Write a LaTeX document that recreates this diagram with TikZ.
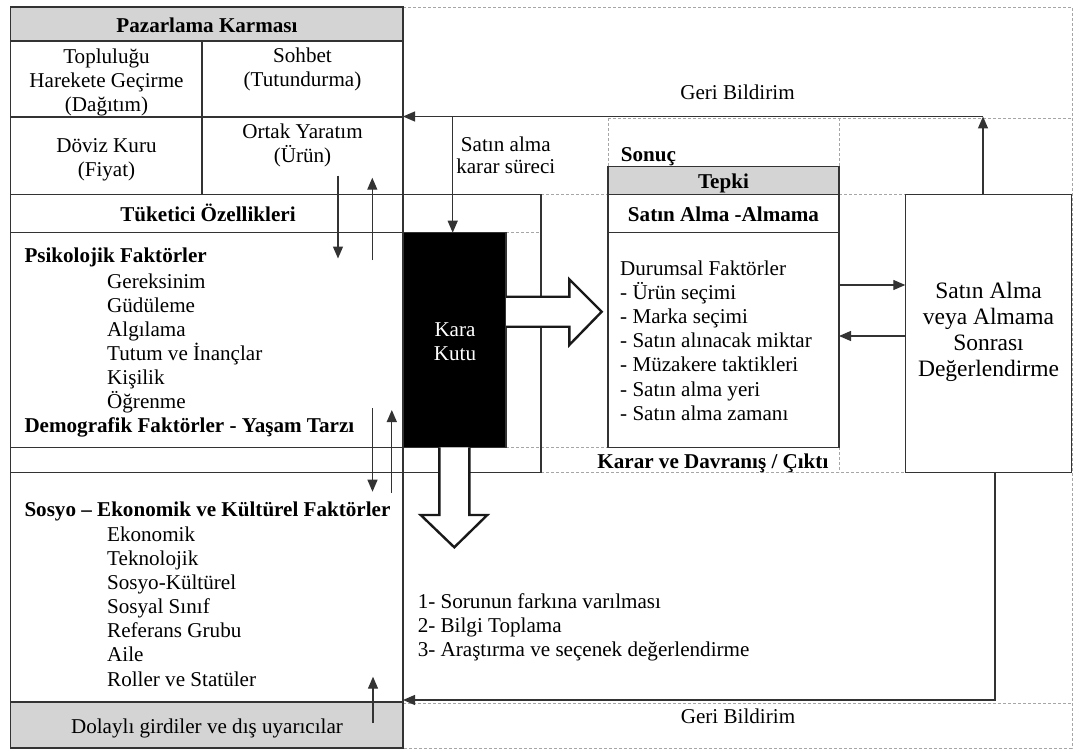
\documentclass[tikz,border=0pt]{standalone}
\usepackage{fontspec}
\setmainfont{Liberation Serif}
\usetikzlibrary{arrows.meta,calc}
\begin{document}
\begin{tikzpicture}[x=1pt,y=-1pt,
  line/.style={draw=black!80,line width=1.3pt},
  guide/.style={draw=black!35,line width=0.9pt,dash pattern=on 3pt off 2pt},
  arr/.style={line,-{Triangle[length=12pt,width=10pt]}},
  txt/.style={inner sep=0pt,anchor=base,font=\fontsize{21.1}{24.2}\selectfont},
  hd/.style={txt,font=\fontsize{21.1}{24.2}\selectfont\bfseries},
  big/.style={txt,font=\fontsize{23.5}{26.5}\selectfont},
  boxnode/.style={line,anchor=north west,inner sep=0pt,outer sep=0pt},
  hollow/.style={draw=black!90,line width=2.4pt,fill=white,line join=miter},
  shade/.style={fill=black!17},
]
\useasboundingbox (0,0) rectangle (1074,749);

% grey bands of the left column
\fill[shade] (10.7,7) rectangle (403,41);
\fill[shade] (10.7,702) rectangle (403,748);

% dashed frame and guide lines
\draw[guide] (403,7) -- (1072,7) -- (1072,748) -- (403,748);
\draw[guide] (608,118) -- (1072,118);
\draw[guide] (608,118) -- (608,166.7);
\draw[guide] (839,118) -- (839,166.7);
\draw[guide] (541,194.4) -- (608,194.4);
\draw[guide] (839,194.4) -- (905.3,194.4);
\draw[guide] (506,232.7) -- (541,232.7);
\draw[guide] (506,447.3) -- (608,447.3);
\draw[guide] (839,447.3) -- (839,472.3);
\draw[guide] (541,472.3) -- (905.3,472.3);
\draw[guide] (403,703) -- (1072,703);

% left column: marketing mix table and consumer characteristics
\draw[line] (10.7,7) rectangle (403,748);
\draw[line] (10.7,41) -- (403,41);
\draw[line] (10.7,117) -- (403,117);
\draw[line] (202,41) -- (202,194.4);
\draw[line] (10.7,194.4) -- (541,194.4) -- (541,472.3) -- (10.7,472.3);
\draw[line] (10.7,232.7) -- (403,232.7);
\draw[line] (10.7,447.3) -- (403,447.3);
\draw[line] (10.7,702) -- (403,702);

% black box
\node[boxnode,fill=black,minimum width=103pt,minimum height=214.6pt] (kara) at (403,232.7) {};

% response box with its grey header
\node[boxnode,minimum width=231pt,minimum height=280.6pt] (tepki) at (608,166.7) {};
\node[boxnode,fill=black!17,minimum width=231pt,minimum height=27.7pt] (tepkihd) at (608,166.7) {};
\draw[line] (tepki.west |- kara.north) -- (tepki.east |- kara.north);

% post-purchase evaluation box
\node[boxnode,minimum width=166.4pt,minimum height=277.8pt] (sonra) at (905.3,194.5) {};

% connectors
\coordinate (fbtop) at (983,116.5);
\coordinate (fbbot) at (995,700);
\coordinate (ra) at (0,285);
\coordinate (la) at (0,336);
\draw[arr] (fbtop |- sonra.north) -- (fbtop);
\draw[arr] (fbtop) -- (fbtop -| kara.west);
\draw[arr] (452.7,116.5) -- (452.7,232.7);
\draw[arr] (tepki.east |- ra) -- (sonra.west |- ra);
\draw[arr] (sonra.west |- la) -- (tepki.east |- la);
\draw[arr] (sonra.south -| fbbot) -- (fbbot) -- (fbbot -| kara.west);

% small influence arrows in the left column
\coordinate (a1s) at (338,175.7);   \coordinate (a1e) at (338,258.5);
\coordinate (a2s) at (372.3,260);   \coordinate (a2e) at (372.3,177.7);
\coordinate (a3s) at (372.5,408.3); \coordinate (a3e) at (372.5,491.7);
\coordinate (a4s) at (391.8,492.7); \coordinate (a4e) at (391.8,410);
\coordinate (a5s) at (373,723);     \coordinate (a5e) at (373,676.7);
\foreach \s/\e in {a1s/a1e,a2s/a2e,a3s/a3e,a4s/a4e,a5s/a5e}
  \draw[arr] (\s) -- (\e);

% hollow block arrows out of the black box
\draw[hollow] (506,296.7) -- (569.3,296.7) -- (569.3,279.3) -- (601.7,311.7)
  -- (569.3,345) -- (569.3,326.7) -- (506,326.7);
\draw[hollow] (439.3,447.3) -- (439.3,515) -- (420.7,515) -- (454.3,547.3)
  -- (487.3,515) -- (469.3,515) -- (469.3,447.3);

% table texts
\node[hd] (pk) at (207,33) {Pazarlama Karması};
\node[txt] (d1) at (106.5,63.5) {Topluluğu};
\node[txt] (d2) at (106.5,87.4) {Harekete Geçirme};
\node[txt] (d3) at (106.5,111.2) {(Dağıtım)};
\node[txt] (t1) at (302.5,62.7) {Sohbet};
\node[txt] (t2) at (302.5,86.6) {(Tutundurma)};
\node[txt] (f1) at (106.5,152.7) {Döviz Kuru};
\node[txt] (f2) at (106.5,176.5) {(Fiyat)};
\node[txt] (u1) at (302.5,138.3) {Ortak Yaratım};
\node[txt] (u2) at (302.5,162.2) {(Ürün)};
\node[hd] (tk) at (208,221.7) {Tüketici Özellikleri};

% psychological factors
\node[hd,anchor=base west] (psy) at (24.3,262.7) {Psikolojik Faktörler};
\foreach \t [count=\i] in {Gereksinim,Güdüleme,Algılama,Tutum ve İnançlar,Kişilik,Öğrenme}
  \node[txt,anchor=base west] (psy\i) at (107,{288.3+24.1*(\i-1)}) {\t};
\node[hd,anchor=base west] (dem) at (24.3,432.3) {Demografik Faktörler - Yaşam Tarzı};

% socio-economic factors
\node[hd,anchor=base west] (sos) at (24.3,516.7) {Sosyo – Ekonomik ve Kültürel Faktörler};
\foreach \t [count=\i] in {Ekonomik,Teknolojik,Sosyo-Kültürel,Sosyal Sınıf,Referans Grubu,Aile,Roller ve Statüler}
  \node[txt,anchor=base west] (sos\i) at (107,{541.7+24.05*(\i-1)}) {\t};
\node[txt] (dg) at (207,733.3) {Dolaylı girdiler ve dış uyarıcılar};

% black box label
\node[txt,text=white] (k1) at (455,336.7) {Kara};
\node[txt,text=white] (k2) at (455,360.7) {Kutu};

% decision process labels
\node[txt] (sk1) at (505.8,151.7) {Satın alma};
\node[txt] (sk2) at (505.8,174) {karar süreci};
\node[txt] (gb1) at (737.5,100) {Geri Bildirim};
\node[txt] (gb2) at (738,723.3) {Geri Bildirim};
\foreach \t [count=\i] in {1- Sorunun farkına varılması,2- Bilgi Toplama,3- Araştırma ve seçenek değerlendirme}
  \node[txt,anchor=base west] (p\i) at (417.6,{608.3+24*(\i-1)}) {\t};

% response side
\node[hd,anchor=base west] (snc) at (620.7,161.7) {Sonuç};
\node[hd] (tp) at (723.5,188.3) {Tepki};
\node[hd] (sa) at (723.5,221.7) {Satın Alma -Almama};
\node[txt,anchor=base west] (dur) at (620,275) {Durumsal Faktörler};
\foreach \t [count=\i] in {- Ürün seçimi,- Marka seçimi,- Satın alınacak miktar,- Müzakere taktikleri,- Satın alma yeri,- Satın alma zamanı}
  \node[txt,anchor=base west] (dur\i) at (620,{299.2+24.2*(\i-1)}) {\t};
\node[hd] (kd) at (712.9,468.3) {Karar ve Davranış / Çıktı};

% post-purchase evaluation label
\node[big] (e1) at (988.5,298.3) {Satın Alma};
\node[big] (e2) at (988.5,324.5) {veya Almama};
\node[big] (e3) at (988.5,350.5) {Sonrası};
\node[big] (e4) at (988.5,376.7) {Değerlendirme};
\end{tikzpicture}
\end{document}
